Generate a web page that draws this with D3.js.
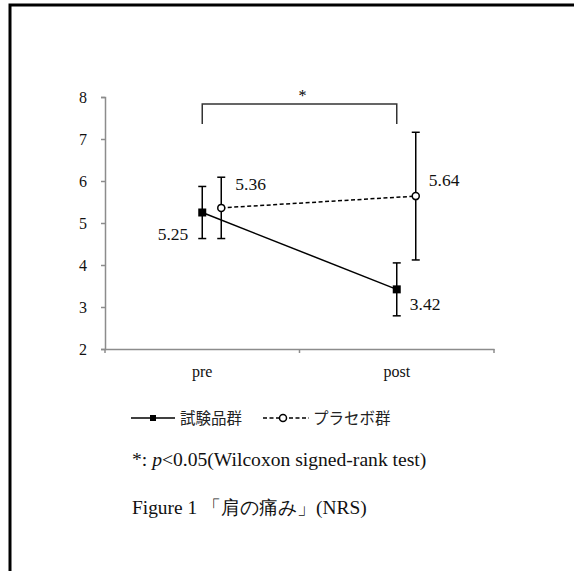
<!DOCTYPE html>
<html>
<head>
<meta charset="utf-8">
<script src="https://cdn.jsdelivr.net/npm/d3@7"></script>
<style>
html,body{margin:0;padding:0;background:#fff;}
svg{display:block;}
</style>
</head>
<body>
<svg id="chart" width="574" height="571"></svg>
<script>
const categories = ["pre", "post"];
const yTicks = [2, 3, 4, 5, 6, 7, 8];
const testMeans = [5.25, 3.42];
const testSD = [0.62, 0.63];
const placeboMeans = [5.36, 5.64];
const placeboSD = [0.73, 1.52];
const seriesNames = ["試験品群", "プラセボ群"];
const noteText = "p<0.05(Wilcoxon signed-rank test)";
const captionText = "Figure 1 「肩の痛み」(NRS)";

const serif = "'Liberation Serif','DejaVu Serif',serif";
const jp = "'Noto Sans CJK JP',sans-serif";
const svg = d3.select("#chart");

// frame
svg.append("rect").attr("x", 10).attr("y", 5).attr("width", 700).attr("height", 700)
  .attr("fill", "none").attr("stroke", "#000").attr("stroke-width", 3);

const y = d3.scaleLinear().domain([2, 8]).range([349, 97]);
const x = d3.scaleBand().domain(categories).range([105, 494]);
const offsets = [0, 19];
const cx = (c, s) => x(c) + x.bandwidth() / 2 + offsets[s];

// axes
const yAxis = svg.append("g").attr("transform", "translate(105,0)")
  .call(d3.axisLeft(y).tickValues(yTicks).tickSize(4).tickPadding(14).tickFormat(d3.format("d")));
const xAxis = svg.append("g").attr("transform", "translate(0,349)")
  .call(d3.axisBottom(x).tickSize(0).tickPadding(17));
[yAxis, xAxis].forEach(a => {
  a.select(".domain").attr("stroke", "#8c8c8c").attr("stroke-width", 1.5);
  a.selectAll(".tick line").attr("stroke", "#8c8c8c").attr("stroke-width", 1.5);
  a.selectAll("text").attr("font-family", serif).attr("font-size", 16).attr("fill", "#111");
});
// x-axis boundary ticks
svg.append("g").selectAll("line").data([105, 105 + x.bandwidth(), 494]).join("line")
  .attr("x1", d => d).attr("x2", d => d).attr("y1", 349).attr("y2", 353)
  .attr("stroke", "#8c8c8c").attr("stroke-width", 1.5);

// significance bracket
const bx1 = cx("pre", 0), bx2 = cx("post", 0);
svg.append("path")
  .attr("d", `M${bx1},124V104H${bx2}V124`)
  .attr("fill", "none").attr("stroke", "#333").attr("stroke-width", 1.5);
svg.append("text").attr("x", (bx1 + bx2) / 2 + 3).attr("y", 101)
  .attr("text-anchor", "middle").attr("font-family", serif).attr("font-size", 16).text("*");

const series = [
  {means: testMeans, sd: testSD, dash: null, marker: "square"},
  {means: placeboMeans, sd: placeboSD, dash: "4,2.5", marker: "circle"}
];

series.forEach((s, si) => {
  const pts = categories.map((c, i) => [cx(c, si), y(s.means[i])]);
  svg.append("path").attr("d", d3.line()(pts)).attr("fill", "none")
    .attr("stroke", "#000").attr("stroke-width", 1.5)
    .attr("stroke-dasharray", s.dash);
  // error bars
  categories.forEach((c, i) => {
    const px = cx(c, si);
    const hi = y(s.means[i] + s.sd[i]), lo = y(s.means[i] - s.sd[i]);
    const g = svg.append("g").attr("stroke", "#000").attr("stroke-width", 1.5);
    g.append("line").attr("x1", px).attr("x2", px).attr("y1", hi).attr("y2", lo);
    g.append("line").attr("x1", px - 4).attr("x2", px + 4).attr("y1", hi).attr("y2", hi);
    g.append("line").attr("x1", px - 4).attr("x2", px + 4).attr("y1", lo).attr("y2", lo);
  });
  // markers
  pts.forEach(p => {
    if (s.marker === "square") {
      svg.append("rect").attr("x", p[0] - 4).attr("y", p[1] - 4).attr("width", 8).attr("height", 8)
        .attr("fill", "#000");
    } else {
      svg.append("circle").attr("cx", p[0]).attr("cy", p[1]).attr("r", 3.5)
        .attr("fill", "#fff").attr("stroke", "#000").attr("stroke-width", 1.5);
    }
  });
});

// value labels
const labelFmt = d3.format(".2f");
const labels = [
  {v: testMeans[0], x: cx("pre", 0) - 14, anchor: "end", dy: 27},
  {v: placeboMeans[0], x: cx("pre", 1) + 14, anchor: "start", dy: -18},
  {v: placeboMeans[1], x: cx("post", 1) + 13, anchor: "start", dy: -10},
  {v: testMeans[1], x: cx("post", 0) + 13, anchor: "start", dy: 21}
];
labels.forEach(l => {
  svg.append("text").attr("x", l.x).attr("y", y(l.v) + l.dy)
    .attr("text-anchor", l.anchor).attr("font-family", serif).attr("font-size", 17.5)
    .attr("fill", "#111").text(labelFmt(l.v));
});

// legend
const lg = svg.append("g");
lg.append("line").attr("x1", 131).attr("x2", 175).attr("y1", 418).attr("y2", 418)
  .attr("stroke", "#000").attr("stroke-width", 1.5);
lg.append("rect").attr("x", 150).attr("y", 415).attr("width", 6).attr("height", 6).attr("fill", "#000");
lg.append("text").attr("x", 180).attr("y", 424).attr("font-family", jp).attr("font-size", 15.5)
  .attr("fill", "#222").text(seriesNames[0]);
lg.append("line").attr("x1", 263).attr("x2", 309).attr("y1", 418).attr("y2", 418)
  .attr("stroke", "#000").attr("stroke-width", 1.5).attr("stroke-dasharray", "4,2.5");
lg.append("circle").attr("cx", 283).attr("cy", 418).attr("r", 3.5)
  .attr("fill", "#fff").attr("stroke", "#000").attr("stroke-width", 1.5);
lg.append("text").attr("x", 313).attr("y", 424).attr("font-family", jp).attr("font-size", 15.5)
  .attr("fill", "#222").text(seriesNames[1]);

// note
const note = svg.append("text").attr("x", 132).attr("y", 466)
  .attr("font-family", serif).attr("font-size", 19.6).attr("fill", "#111");
note.append("tspan").text("*: ");
note.append("tspan").attr("font-style", "italic").text(noteText.slice(0, 1));
note.append("tspan").text(noteText.slice(1));

// caption
svg.append("text").attr("x", 132).attr("y", 514)
  .attr("font-family", serif).attr("font-size", 19.4).attr("fill", "#111").text(captionText);
</script>
</body>
</html>
